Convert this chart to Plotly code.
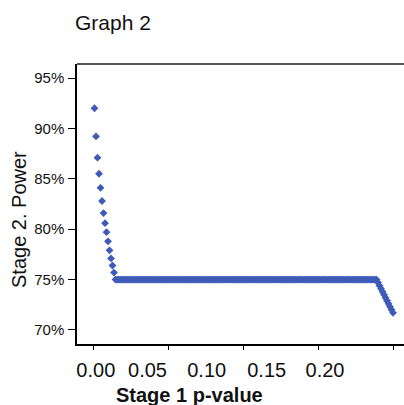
import numpy as np
import plotly.graph_objects as go

# ---- data ----
P_VALUES = [round(0.001 * i, 3) for i in range(1, 201)]  # 0.001 .. 0.200
POWER_STEEP = [0.920, 0.892, 0.871, 0.855, 0.841, 0.828, 0.816, 0.806,
               0.797, 0.788, 0.779, 0.771, 0.764, 0.757]          # 0.001 .. 0.014
POWER_FLAT = [0.750] * 175                                        # 0.015 .. 0.189
POWER_DROP = [0.747, 0.744, 0.741, 0.738, 0.735, 0.732, 0.729,
              0.726, 0.723, 0.720, 0.717]                         # 0.190 .. 0.200
POWER = POWER_STEEP + POWER_FLAT + POWER_DROP

X_TICKS = [0.00, 0.05, 0.10, 0.15, 0.20]
X_TICK_LABELS = ["0.00", "0.05", "0.10", "0.15", "0.20"]
Y_TICKS = [0.70, 0.75, 0.80, 0.85, 0.90, 0.95]

TITLE = "Graph 2"
X_TITLE = "Stage 1 p-value"
Y_TITLE = "Stage 2. Power"

# ---- layout constants ----
W, H = 404, 405
ML, MR, MT, MB = 77, 0, 64, 61
FONT = "Liberation Sans, Arial, sans-serif"
BLUE = "#3F5BB8"

# label positions of the x tick labels (pixel axis used only for labels)
LABEL_PX = [95.8, 147.5, 206.7, 266.7, 325.0]

fig = go.Figure()
fig.add_trace(go.Scatter(
    x=P_VALUES, y=POWER, mode="markers",
    marker=dict(symbol="diamond", size=6, color=BLUE, line=dict(width=0)),
    showlegend=False, hoverinfo="x+y",
))

fig.update_layout(
    width=W, height=H,
    margin=dict(l=ML, r=MR, t=MT, b=MB, pad=0),
    paper_bgcolor="white", plot_bgcolor="white",
    font=dict(family=FONT, color="#111"),
    title=dict(text=TITLE, x=75 / W, xanchor="left", xref="container",
               y=1 - 23 / H, yanchor="middle", yref="container",
               font=dict(size=21, family=FONT, color="#111")),
    xaxis=dict(
        range=[-0.01067, 0.2073], showgrid=False, zeroline=False,
        showline=True, linecolor="black", linewidth=1.5,
        ticks="outside", ticklen=4, tickcolor="black", tickwidth=1.2,
        tickvals=X_TICKS, showticklabels=False,
    ),
    xaxis2=dict(
        overlaying="x", anchor="y", side="bottom",
        range=[ML, W], showgrid=False, zeroline=False, showline=False,
        ticks="", tickvals=LABEL_PX, ticktext=X_TICK_LABELS,
        tickfont=dict(size=20, family=FONT, color="#111"),
        ticklabelstandoff=12,
    ),
    yaxis=dict(
        range=[0.6861, 0.9639], showgrid=False, zeroline=False,
        showline=True, linecolor="black", linewidth=1.5,
        ticks="outside", ticklen=7, tickcolor="black", tickwidth=1.2,
        tickvals=Y_TICKS, tickformat=".0%",
        tickfont=dict(size=15, family=FONT, color="#111"),
        ticklabelstandoff=1,
    ),
    shapes=[dict(type="line", xref="paper", yref="paper",
                 x0=0, x1=1, y0=1, y1=1,
                 line=dict(color="#555", width=2))],
    annotations=[
        dict(text="<b>" + X_TITLE + "</b>", xref="paper", yref="paper",
             x=(189 - ML) / (W - ML - MR), xanchor="center",
             y=-(395 - (H - MB)) / (H - MT - MB), yanchor="middle",
             showarrow=False, font=dict(size=20, family=FONT, color="#111")),
        dict(text=Y_TITLE, xref="paper", yref="paper", textangle=-90,
             x=-(ML - 19) / (W - ML - MR), xanchor="center",
             y=1 - (220 - MT) / (H - MT - MB), yanchor="middle",
             showarrow=False, font=dict(size=20, family=FONT, color="#111")),
    ],
)

# add a hidden trace on xaxis2 so that axis is rendered
fig.add_trace(go.Scatter(x=[ML], y=[None], xaxis="x2", yaxis="y",
                         mode="markers", showlegend=False, hoverinfo="skip"))

fig.write_html("out.html")
